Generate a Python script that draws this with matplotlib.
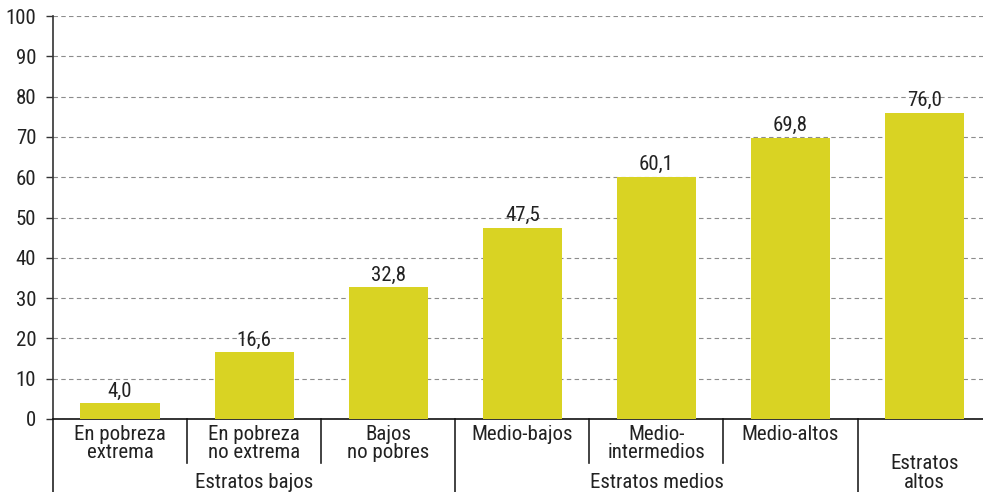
import matplotlib
matplotlib.use("Agg")
import matplotlib.pyplot as plt
from matplotlib.transforms import blended_transform_factory

plt.rcParams['font.family'] = ['Roboto Condensed', 'DejaVu Sans']

categories = ["En pobreza\nextrema", "En pobreza\nno extrema", "Bajos\nno pobres",
              "Medio-bajos", "Medio-\nintermedios", "Medio-altos", ""]
values = [4.0, 16.6, 32.8, 47.5, 60.1, 69.8, 76.0]
groups = ["Estratos bajos", "Estratos medios", "Estratos\naltos"]
group_spans = [(0, 2), (3, 5), (6, 6)]
yticks = list(range(0, 101, 10))

bar_color = "#D9D323"
text_color = "#222222"
fs = 15

fig = plt.figure(figsize=(9.83, 4.92), dpi=100)
ax = fig.add_axes([53 / 983, 1 - 419 / 492, 7 * 134.1 / 983, (419 - 16) / 492])

x = list(range(len(values)))
ax.bar(x, values, width=0.59, color=bar_color, zorder=3)
for a, b in zip(x, values):
    ax.text(a, b + 0.6, f"{b:.1f}".replace(".", ","), ha="center", va="bottom",
            fontsize=fs, color=text_color, zorder=4)

ax.set_xlim(-0.5, len(values) - 0.5)
ax.set_ylim(0, 100)
ax.set_yticks(yticks)
ax.set_yticklabels([str(t) for t in yticks], fontsize=fs, color=text_color)
ax.yaxis.grid(True, linestyle=(0, (4, 3)), color="#8c8c8c", linewidth=0.8, zorder=0)
ax.set_xticks([])
ax.tick_params(axis="y", length=5, width=1, color="#333333", pad=7)
for s in ["top", "right"]:
    ax.spines[s].set_visible(False)
ax.spines["left"].set_color("#333333")
ax.spines["bottom"].set_color("#111111")
ax.spines["left"].set_linewidth(1.2)
ax.spines["bottom"].set_linewidth(1.2)

trans = blended_transform_factory(ax.transData, fig.transFigure)

# category labels
for a, lab in zip(x, categories):
    ax.text(a, 1 - 425 / 492, lab, transform=trans, ha="center", va="top",
            fontsize=fs, color=text_color, linespacing=0.95)

# separators
long_lines = [-0.5, 2.5, 5.5]
short_lines = [0.5, 1.5, 3.5, 4.5]
for p in long_lines:
    ax.plot([p, p], [1 - 419 / 492, 0], transform=trans, color="#222222",
            linewidth=1.2, clip_on=False)
for p in short_lines:
    ax.plot([p, p], [1 - 419 / 492, 1 - 463 / 492], transform=trans, color="#222222",
            linewidth=1.2, clip_on=False)

# group labels
for g, (s, e) in zip(groups, group_spans):
    cx = (s + e) / 2
    if "\n" in g:
        ax.text(cx, 1 - 473 / 492, g, transform=trans, ha="center", va="center",
                fontsize=fs, color=text_color, linespacing=0.95)
    else:
        ax.text(cx, 1 - 483 / 492, g, transform=trans, ha="center", va="center",
                fontsize=fs, color=text_color)

fig.savefig("out.png", dpi=100)
